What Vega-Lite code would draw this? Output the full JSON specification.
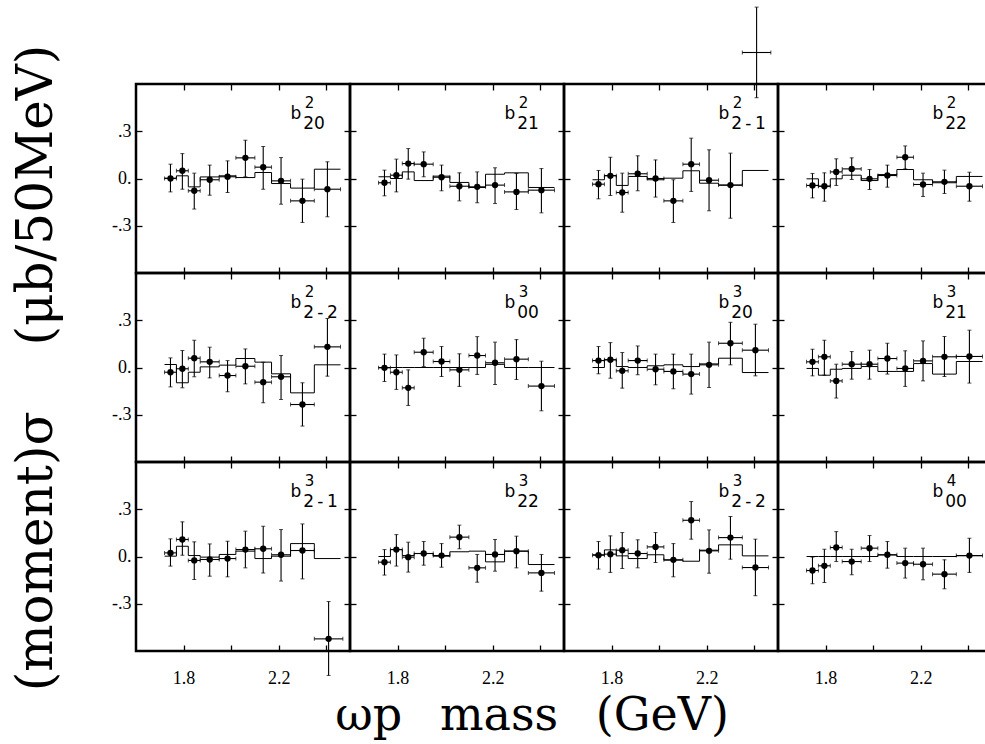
{
"$schema": "https://vega.github.io/schema/vega-lite/v6.json",
"background": "white",
"padding": {"left": 10, "top": 5, "right": 0, "bottom": 0},
"columns": 4,
"spacing": 0,
"bounds": "flush",
"title": {"text": "ωp\u2002 mass\u2002 (GeV)", "orient": "bottom", "anchor": "middle", "font": "DejaVu Serif", "fontSize": 46, "fontWeight": "normal", "color": "black", "offset": 2, "dx": 30},
"datasets": {
"pts": [
{"p":"p1","x":1.745,"xl":1.72,"xh":1.77,"y":0.0,"lo":-0.085,"hi":0.091},
{"p":"p1","x":1.795,"xl":1.77,"xh":1.82,"y":0.049,"lo":-0.068,"hi":0.158},
{"p":"p1","x":1.845,"xl":1.82,"xh":1.87,"y":-0.078,"lo":-0.194,"hi":0.034},
{"p":"p1","x":1.91,"xl":1.87,"xh":1.95,"y":-0.008,"lo":-0.106,"hi":0.085},
{"p":"p1","x":1.985,"xl":1.95,"xh":2.02,"y":0.011,"lo":-0.089,"hi":0.112},
{"p":"p1","x":2.06,"xl":2.02,"xh":2.1,"y":0.131,"lo":0.011,"hi":0.243},
{"p":"p1","x":2.135,"xl":2.1,"xh":2.17,"y":0.072,"lo":-0.068,"hi":0.203},
{"p":"p1","x":2.21,"xl":2.17,"xh":2.25,"y":-0.015,"lo":-0.163,"hi":0.133},
{"p":"p1","x":2.3,"xl":2.25,"xh":2.35,"y":-0.142,"lo":-0.279,"hi":-0.004},
{"p":"p1","x":2.405,"xl":2.35,"xh":2.46,"y":-0.068,"lo":-0.243,"hi":0.106},
{"p":"p2","x":1.745,"xl":1.72,"xh":1.77,"y":-0.027,"lo":-0.11,"hi":0.053},
{"p":"p2","x":1.795,"xl":1.77,"xh":1.82,"y":0.021,"lo":-0.085,"hi":0.123},
{"p":"p2","x":1.845,"xl":1.82,"xh":1.87,"y":0.095,"lo":-0.004,"hi":0.19},
{"p":"p2","x":1.91,"xl":1.87,"xh":1.95,"y":0.091,"lo":0.011,"hi":0.169},
{"p":"p2","x":1.985,"xl":1.95,"xh":2.02,"y":0.008,"lo":-0.078,"hi":0.085},
{"p":"p2","x":2.06,"xl":2.02,"xh":2.1,"y":-0.049,"lo":-0.142,"hi":0.036},
{"p":"p2","x":2.135,"xl":2.1,"xh":2.17,"y":-0.053,"lo":-0.154,"hi":0.042},
{"p":"p2","x":2.21,"xl":2.17,"xh":2.25,"y":-0.042,"lo":-0.159,"hi":0.068},
{"p":"p2","x":2.3,"xl":2.25,"xh":2.35,"y":-0.085,"lo":-0.197,"hi":0.032},
{"p":"p2","x":2.405,"xl":2.35,"xh":2.46,"y":-0.074,"lo":-0.218,"hi":0.063},
{"p":"p3","x":1.745,"xl":1.72,"xh":1.77,"y":-0.036,"lo":-0.129,"hi":0.051},
{"p":"p3","x":1.795,"xl":1.77,"xh":1.82,"y":0.017,"lo":-0.108,"hi":0.135},
{"p":"p3","x":1.845,"xl":1.82,"xh":1.87,"y":-0.089,"lo":-0.214,"hi":0.034},
{"p":"p3","x":1.91,"xl":1.87,"xh":1.95,"y":0.03,"lo":-0.078,"hi":0.144},
{"p":"p3","x":1.985,"xl":1.95,"xh":2.02,"y":0.0,"lo":-0.118,"hi":0.118},
{"p":"p3","x":2.06,"xl":2.02,"xh":2.1,"y":-0.142,"lo":-0.279,"hi":-0.008},
{"p":"p3","x":2.135,"xl":2.1,"xh":2.17,"y":0.091,"lo":-0.082,"hi":0.256},
{"p":"p3","x":2.21,"xl":2.17,"xh":2.25,"y":-0.011,"lo":-0.205,"hi":0.182},
{"p":"p3","x":2.3,"xl":2.25,"xh":2.35,"y":-0.042,"lo":-0.252,"hi":0.161},
{"p":"p3","x":2.41,"xl":2.35,"xh":2.47,"y":0.8,"lo":0.513,"hi":1.088},
{"p":"p4","x":1.745,"xl":1.72,"xh":1.77,"y":-0.044,"lo":-0.123,"hi":0.032},
{"p":"p4","x":1.795,"xl":1.77,"xh":1.82,"y":-0.049,"lo":-0.144,"hi":0.036},
{"p":"p4","x":1.845,"xl":1.82,"xh":1.87,"y":0.042,"lo":-0.044,"hi":0.125},
{"p":"p4","x":1.91,"xl":1.87,"xh":1.95,"y":0.061,"lo":-0.006,"hi":0.131},
{"p":"p4","x":1.985,"xl":1.95,"xh":2.02,"y":-0.002,"lo":-0.07,"hi":0.057},
{"p":"p4","x":2.06,"xl":2.02,"xh":2.1,"y":0.019,"lo":-0.055,"hi":0.085},
{"p":"p4","x":2.135,"xl":2.1,"xh":2.17,"y":0.135,"lo":0.061,"hi":0.207},
{"p":"p4","x":2.21,"xl":2.17,"xh":2.25,"y":-0.038,"lo":-0.114,"hi":0.034},
{"p":"p4","x":2.3,"xl":2.25,"xh":2.35,"y":-0.021,"lo":-0.095,"hi":0.053},
{"p":"p4","x":2.405,"xl":2.35,"xh":2.46,"y":-0.049,"lo":-0.144,"hi":0.04},
{"p":"p5","x":1.745,"xl":1.72,"xh":1.77,"y":-0.03,"lo":-0.123,"hi":0.061},
{"p":"p5","x":1.795,"xl":1.77,"xh":1.82,"y":-0.008,"lo":-0.129,"hi":0.108},
{"p":"p5","x":1.845,"xl":1.82,"xh":1.87,"y":0.059,"lo":-0.059,"hi":0.173},
{"p":"p5","x":1.91,"xl":1.87,"xh":1.95,"y":0.036,"lo":-0.066,"hi":0.129},
{"p":"p5","x":1.985,"xl":1.95,"xh":2.02,"y":-0.051,"lo":-0.154,"hi":0.044},
{"p":"p5","x":2.06,"xl":2.02,"xh":2.1,"y":0.008,"lo":-0.104,"hi":0.118},
{"p":"p5","x":2.135,"xl":2.1,"xh":2.17,"y":-0.093,"lo":-0.224,"hi":0.034},
{"p":"p5","x":2.21,"xl":2.17,"xh":2.25,"y":-0.059,"lo":-0.203,"hi":0.076},
{"p":"p5","x":2.3,"xl":2.25,"xh":2.35,"y":-0.235,"lo":-0.372,"hi":-0.097},
{"p":"p5","x":2.405,"xl":2.35,"xh":2.46,"y":0.131,"lo":-0.055,"hi":0.311},
{"p":"p6","x":1.745,"xl":1.72,"xh":1.77,"y":-0.002,"lo":-0.089,"hi":0.085},
{"p":"p6","x":1.795,"xl":1.77,"xh":1.82,"y":-0.03,"lo":-0.139,"hi":0.08},
{"p":"p6","x":1.845,"xl":1.82,"xh":1.87,"y":-0.129,"lo":-0.241,"hi":-0.015},
{"p":"p6","x":1.91,"xl":1.87,"xh":1.95,"y":0.097,"lo":0.006,"hi":0.186},
{"p":"p6","x":1.985,"xl":1.95,"xh":2.02,"y":0.038,"lo":-0.057,"hi":0.133},
{"p":"p6","x":2.06,"xl":2.02,"xh":2.1,"y":-0.015,"lo":-0.12,"hi":0.087},
{"p":"p6","x":2.135,"xl":2.1,"xh":2.17,"y":0.076,"lo":-0.044,"hi":0.196},
{"p":"p6","x":2.21,"xl":2.17,"xh":2.25,"y":0.03,"lo":-0.108,"hi":0.161},
{"p":"p6","x":2.3,"xl":2.25,"xh":2.35,"y":0.053,"lo":-0.076,"hi":0.177},
{"p":"p6","x":2.405,"xl":2.35,"xh":2.46,"y":-0.118,"lo":-0.275,"hi":0.04},
{"p":"p7","x":1.745,"xl":1.72,"xh":1.77,"y":0.044,"lo":-0.04,"hi":0.133},
{"p":"p7","x":1.795,"xl":1.77,"xh":1.82,"y":0.049,"lo":-0.068,"hi":0.158},
{"p":"p7","x":1.845,"xl":1.82,"xh":1.87,"y":-0.021,"lo":-0.131,"hi":0.095},
{"p":"p7","x":1.91,"xl":1.87,"xh":1.95,"y":0.044,"lo":-0.046,"hi":0.137},
{"p":"p7","x":1.985,"xl":1.95,"xh":2.02,"y":-0.011,"lo":-0.11,"hi":0.085},
{"p":"p7","x":2.06,"xl":2.02,"xh":2.1,"y":-0.025,"lo":-0.135,"hi":0.085},
{"p":"p7","x":2.135,"xl":2.1,"xh":2.17,"y":-0.042,"lo":-0.169,"hi":0.085},
{"p":"p7","x":2.21,"xl":2.17,"xh":2.25,"y":0.017,"lo":-0.127,"hi":0.161},
{"p":"p7","x":2.3,"xl":2.25,"xh":2.35,"y":0.154,"lo":0.017,"hi":0.287},
{"p":"p7","x":2.405,"xl":2.35,"xh":2.46,"y":0.11,"lo":-0.053,"hi":0.275},
{"p":"p8","x":1.745,"xl":1.72,"xh":1.77,"y":0.036,"lo":-0.053,"hi":0.116},
{"p":"p8","x":1.795,"xl":1.77,"xh":1.82,"y":0.068,"lo":-0.049,"hi":0.173},
{"p":"p8","x":1.845,"xl":1.82,"xh":1.87,"y":-0.085,"lo":-0.194,"hi":0.021},
{"p":"p8","x":1.91,"xl":1.87,"xh":1.95,"y":0.021,"lo":-0.074,"hi":0.101},
{"p":"p8","x":1.985,"xl":1.95,"xh":2.02,"y":0.021,"lo":-0.074,"hi":0.11},
{"p":"p8","x":2.06,"xl":2.02,"xh":2.1,"y":0.057,"lo":-0.042,"hi":0.154},
{"p":"p8","x":2.135,"xl":2.1,"xh":2.17,"y":-0.006,"lo":-0.12,"hi":0.106},
{"p":"p8","x":2.21,"xl":2.17,"xh":2.25,"y":0.042,"lo":-0.085,"hi":0.169},
{"p":"p8","x":2.3,"xl":2.25,"xh":2.35,"y":0.068,"lo":-0.057,"hi":0.197},
{"p":"p8","x":2.405,"xl":2.35,"xh":2.46,"y":0.07,"lo":-0.099,"hi":0.237},
{"p":"p9","x":1.745,"xl":1.72,"xh":1.77,"y":0.023,"lo":-0.061,"hi":0.112},
{"p":"p9","x":1.795,"xl":1.77,"xh":1.82,"y":0.108,"lo":0.008,"hi":0.22},
{"p":"p9","x":1.845,"xl":1.82,"xh":1.87,"y":-0.025,"lo":-0.146,"hi":0.093},
{"p":"p9","x":1.91,"xl":1.87,"xh":1.95,"y":-0.019,"lo":-0.125,"hi":0.08},
{"p":"p9","x":1.985,"xl":1.95,"xh":2.02,"y":-0.013,"lo":-0.129,"hi":0.097},
{"p":"p9","x":2.06,"xl":2.02,"xh":2.1,"y":0.044,"lo":-0.072,"hi":0.161},
{"p":"p9","x":2.135,"xl":2.1,"xh":2.17,"y":0.049,"lo":-0.104,"hi":0.192},
{"p":"p9","x":2.21,"xl":2.17,"xh":2.25,"y":0.011,"lo":-0.156,"hi":0.171},
{"p":"p9","x":2.3,"xl":2.25,"xh":2.35,"y":0.038,"lo":-0.142,"hi":0.207},
{"p":"p9","x":2.41,"xl":2.35,"xh":2.47,"y":-0.523,"lo":-0.755,"hi":-0.286},
{"p":"p10","x":1.745,"xl":1.72,"xh":1.77,"y":-0.036,"lo":-0.118,"hi":0.044},
{"p":"p10","x":1.795,"xl":1.77,"xh":1.82,"y":0.044,"lo":-0.061,"hi":0.139},
{"p":"p10","x":1.845,"xl":1.82,"xh":1.87,"y":-0.004,"lo":-0.099,"hi":0.091},
{"p":"p10","x":1.91,"xl":1.87,"xh":1.95,"y":0.019,"lo":-0.055,"hi":0.095},
{"p":"p10","x":1.985,"xl":1.95,"xh":2.02,"y":0.006,"lo":-0.068,"hi":0.082},
{"p":"p10","x":2.06,"xl":2.02,"xh":2.1,"y":0.123,"lo":0.049,"hi":0.199},
{"p":"p10","x":2.135,"xl":2.1,"xh":2.17,"y":-0.072,"lo":-0.163,"hi":0.013},
{"p":"p10","x":2.21,"xl":2.17,"xh":2.25,"y":0.013,"lo":-0.093,"hi":0.108},
{"p":"p10","x":2.3,"xl":2.25,"xh":2.35,"y":0.034,"lo":-0.072,"hi":0.129},
{"p":"p10","x":2.405,"xl":2.35,"xh":2.46,"y":-0.104,"lo":-0.22,"hi":0.013},
{"p":"p11","x":1.745,"xl":1.72,"xh":1.77,"y":0.008,"lo":-0.08,"hi":0.095},
{"p":"p11","x":1.795,"xl":1.77,"xh":1.82,"y":0.015,"lo":-0.101,"hi":0.131},
{"p":"p11","x":1.845,"xl":1.82,"xh":1.87,"y":0.04,"lo":-0.076,"hi":0.152},
{"p":"p11","x":1.91,"xl":1.87,"xh":1.95,"y":0.019,"lo":-0.072,"hi":0.106},
{"p":"p11","x":1.985,"xl":1.95,"xh":2.02,"y":0.061,"lo":-0.038,"hi":0.152},
{"p":"p11","x":2.06,"xl":2.02,"xh":2.1,"y":-0.021,"lo":-0.129,"hi":0.082},
{"p":"p11","x":2.135,"xl":2.1,"xh":2.17,"y":0.23,"lo":0.11,"hi":0.349},
{"p":"p11","x":2.21,"xl":2.17,"xh":2.25,"y":0.036,"lo":-0.106,"hi":0.169},
{"p":"p11","x":2.3,"xl":2.25,"xh":2.35,"y":0.12,"lo":-0.017,"hi":0.254},
{"p":"p11","x":2.405,"xl":2.35,"xh":2.46,"y":-0.07,"lo":-0.249,"hi":0.11},
{"p":"p12","x":1.745,"xl":1.72,"xh":1.77,"y":-0.089,"lo":-0.173,"hi":-0.004},
{"p":"p12","x":1.795,"xl":1.77,"xh":1.82,"y":-0.059,"lo":-0.165,"hi":0.046},
{"p":"p12","x":1.845,"xl":1.82,"xh":1.87,"y":0.057,"lo":-0.032,"hi":0.158},
{"p":"p12","x":1.91,"xl":1.87,"xh":1.95,"y":-0.032,"lo":-0.116,"hi":0.046},
{"p":"p12","x":1.985,"xl":1.95,"xh":2.02,"y":0.053,"lo":-0.032,"hi":0.133},
{"p":"p12","x":2.06,"xl":2.02,"xh":2.1,"y":0.011,"lo":-0.074,"hi":0.095},
{"p":"p12","x":2.135,"xl":2.1,"xh":2.17,"y":-0.042,"lo":-0.137,"hi":0.053},
{"p":"p12","x":2.21,"xl":2.17,"xh":2.25,"y":-0.049,"lo":-0.148,"hi":0.053},
{"p":"p12","x":2.3,"xl":2.25,"xh":2.35,"y":-0.112,"lo":-0.205,"hi":-0.021},
{"p":"p12","x":2.405,"xl":2.35,"xh":2.46,"y":0.006,"lo":-0.101,"hi":0.116}
],
"hist": [
{"p":"p1","x":1.72,"h":0.002},{"p":"p1","x":1.77,"h":0.017},{"p":"p1","x":1.82,"h":-0.053},{"p":"p1","x":1.87,"h":0.01},{"p":"p1","x":1.95,"h":0.017},{"p":"p1","x":2.02,"h":0.006},{"p":"p1","x":2.1,"h":0.038},{"p":"p1","x":2.17,"h":-0.032},{"p":"p1","x":2.25,"h":-0.061},{"p":"p1","x":2.35,"h":0.059},{"p":"p1","x":2.46,"h":0.059},
{"p":"p2","x":1.72,"h":0.011},{"p":"p2","x":1.77,"h":0.0},{"p":"p2","x":1.82,"h":0.042},{"p":"p2","x":1.87,"h":-0.013},{"p":"p2","x":1.95,"h":0.015},{"p":"p2","x":2.02,"h":-0.025},{"p":"p2","x":2.1,"h":-0.057},{"p":"p2","x":2.17,"h":0.027},{"p":"p2","x":2.25,"h":0.036},{"p":"p2","x":2.35,"h":-0.057},{"p":"p2","x":2.46,"h":-0.057},
{"p":"p3","x":1.72,"h":-0.008},{"p":"p3","x":1.77,"h":0.019},{"p":"p3","x":1.82,"h":-0.044},{"p":"p3","x":1.87,"h":0.013},{"p":"p3","x":1.95,"h":-0.008},{"p":"p3","x":2.02,"h":0.002},{"p":"p3","x":2.1,"h":0.049},{"p":"p3","x":2.17,"h":-0.03},{"p":"p3","x":2.25,"h":-0.042},{"p":"p3","x":2.35,"h":0.051},{"p":"p3","x":2.46,"h":0.051},
{"p":"p4","x":1.72,"h":-0.002},{"p":"p4","x":1.77,"h":-0.049},{"p":"p4","x":1.82,"h":-0.002},{"p":"p4","x":1.87,"h":0.021},{"p":"p4","x":1.95,"h":-0.013},{"p":"p4","x":2.02,"h":0.025},{"p":"p4","x":2.1,"h":0.057},{"p":"p4","x":2.17,"h":-0.008},{"p":"p4","x":2.25,"h":-0.027},{"p":"p4","x":2.35,"h":0.013},{"p":"p4","x":2.46,"h":0.013},
{"p":"p5","x":1.72,"h":0.019},{"p":"p5","x":1.77,"h":-0.097},{"p":"p5","x":1.82,"h":-0.03},{"p":"p5","x":1.87,"h":0.004},{"p":"p5","x":1.95,"h":0.015},{"p":"p5","x":2.02,"h":0.057},{"p":"p5","x":2.1,"h":0.034},{"p":"p5","x":2.17,"h":-0.04},{"p":"p5","x":2.25,"h":-0.161},{"p":"p5","x":2.35,"h":0.017},{"p":"p5","x":2.46,"h":0.017},
{"p":"p6","x":1.72,"h":0},{"p":"p6","x":1.77,"h":0},{"p":"p6","x":1.82,"h":0},{"p":"p6","x":1.87,"h":0},{"p":"p6","x":1.95,"h":0},{"p":"p6","x":2.02,"h":0},{"p":"p6","x":2.1,"h":0},{"p":"p6","x":2.17,"h":0.02},{"p":"p6","x":2.25,"h":0},{"p":"p6","x":2.35,"h":0},{"p":"p6","x":2.46,"h":0},
{"p":"p7","x":1.72,"h":0.0},{"p":"p7","x":1.77,"h":0.049},{"p":"p7","x":1.82,"h":0.006},{"p":"p7","x":1.87,"h":0.0},{"p":"p7","x":1.95,"h":0.011},{"p":"p7","x":2.02,"h":0.017},{"p":"p7","x":2.1,"h":0.006},{"p":"p7","x":2.17,"h":0.023},{"p":"p7","x":2.25,"h":0.059},{"p":"p7","x":2.35,"h":-0.032},{"p":"p7","x":2.46,"h":-0.032},
{"p":"p8","x":1.72,"h":-0.006},{"p":"p8","x":1.77,"h":-0.049},{"p":"p8","x":1.82,"h":-0.011},{"p":"p8","x":1.87,"h":-0.006},{"p":"p8","x":1.95,"h":0.006},{"p":"p8","x":2.02,"h":-0.025},{"p":"p8","x":2.1,"h":-0.025},{"p":"p8","x":2.17,"h":0.025},{"p":"p8","x":2.25,"h":-0.042},{"p":"p8","x":2.35,"h":0.038},{"p":"p8","x":2.46,"h":0.038},
{"p":"p9","x":1.72,"h":0.002},{"p":"p9","x":1.77,"h":0.065},{"p":"p9","x":1.82,"h":0.006},{"p":"p9","x":1.87,"h":-0.004},{"p":"p9","x":1.95,"h":0.013},{"p":"p9","x":2.02,"h":0.034},{"p":"p9","x":2.1,"h":-0.013},{"p":"p9","x":2.17,"h":0.002},{"p":"p9","x":2.25,"h":0.082},{"p":"p9","x":2.35,"h":-0.013},{"p":"p9","x":2.46,"h":-0.013},
{"p":"p10","x":1.72,"h":0.0},{"p":"p10","x":1.77,"h":0.044},{"p":"p10","x":1.82,"h":0.006},{"p":"p10","x":1.87,"h":0.019},{"p":"p10","x":1.95,"h":0.002},{"p":"p10","x":2.02,"h":0.03},{"p":"p10","x":2.1,"h":0.034},{"p":"p10","x":2.17,"h":-0.034},{"p":"p10","x":2.25,"h":0.034},{"p":"p10","x":2.35,"h":-0.051},{"p":"p10","x":2.46,"h":-0.051},
{"p":"p11","x":1.72,"h":0.011},{"p":"p11","x":1.77,"h":0.042},{"p":"p11","x":1.82,"h":0.004},{"p":"p11","x":1.87,"h":-0.013},{"p":"p11","x":1.95,"h":0.011},{"p":"p11","x":2.02,"h":-0.023},{"p":"p11","x":2.1,"h":-0.03},{"p":"p11","x":2.17,"h":0.04},{"p":"p11","x":2.25,"h":0.074},{"p":"p11","x":2.35,"h":0.004},{"p":"p11","x":2.46,"h":0.004},
{"p":"p12","x":1.72,"h":0},{"p":"p12","x":1.77,"h":0},{"p":"p12","x":1.82,"h":0},{"p":"p12","x":1.87,"h":0},{"p":"p12","x":1.95,"h":0},{"p":"p12","x":2.02,"h":0.01},{"p":"p12","x":2.1,"h":0},{"p":"p12","x":2.17,"h":0},{"p":"p12","x":2.25,"h":0},{"p":"p12","x":2.35,"h":0.005},{"p":"p12","x":2.46,"h":0.005}
],
"lab": [
{"p":"p1","sup":"2","sub":"20"},
{"p":"p2","sup":"2","sub":"21"},
{"p":"p3","sup":"2","sub":"2\u2009-\u20091"},
{"p":"p4","sup":"2","sub":"22"},
{"p":"p5","sup":"2","sub":"2\u2009-\u20092"},
{"p":"p6","sup":"3","sub":"00"},
{"p":"p7","sup":"3","sub":"20"},
{"p":"p8","sup":"3","sub":"21"},
{"p":"p9","sup":"3","sub":"2\u2009-\u20091"},
{"p":"p10","sup":"3","sub":"22"},
{"p":"p11","sup":"3","sub":"2\u2009-\u20092"},
{"p":"p12","sup":"4","sub":"00"}
]
},
"concat": [
{"width":214,"height":189,"layer":[
{"data":{"name":"hist"},"transform":[{"filter":"datum.p=='p1'"}],"mark":{"type":"line","interpolate":"step-after","color":"black","strokeWidth":1},"encoding":{"x":{"field":"x","type":"quantitative","scale":{"domain":[1.6,2.5]},"axis":{"orient":"bottom","values":[1.8,2.0,2.2,2.4],"title":null,"labels":false}},"y":{"field":"h","type":"quantitative","scale":{"domain":[-0.6,0.6]},"axis":{"orient":"left","values":[-0.3,0,0.3],"title":null,"labelExpr":"datum.value>0.1?'.3':(datum.value<-0.1?'-.3':'0.')"}}}},
{"data":{"name":"pts"},"transform":[{"filter":"datum.p=='p1'"}],"mark":{"type":"errorbar","color":"black","ticks":{"size":4},"rule":{"strokeWidth":1.1}},"encoding":{"x":{"field":"x","type":"quantitative","scale":{"domain":[1.6,2.5]},"axis":{"orient":"top","values":[1.8,2.0,2.2,2.4],"labels":false,"title":null}},"y":{"field":"lo","type":"quantitative","scale":{"domain":[-0.6,0.6]},"axis":{"orient":"right","values":[-0.3,0,0.3],"labels":false,"title":null}},"y2":{"field":"hi"}}},
{"data":{"name":"pts"},"transform":[{"filter":"datum.p=='p1'"}],"mark":{"type":"errorbar","color":"black","ticks":{"size":4},"rule":{"strokeWidth":1.1}},"encoding":{"y":{"field":"y","type":"quantitative","axis":null},"x":{"field":"xl","type":"quantitative","axis":null},"x2":{"field":"xh"}}},
{"data":{"name":"pts"},"transform":[{"filter":"datum.p=='p1' && datum.y<0.6"}],"mark":{"type":"point","filled":true,"color":"black","size":40,"opacity":1},"encoding":{"x":{"field":"x","type":"quantitative","axis":null},"y":{"field":"y","type":"quantitative","axis":null}}},
{"data":{"name":"lab"},"transform":[{"filter":"datum.p=='p1'"}],"mark":{"type":"text","text":"b","align":"left","baseline":"alphabetic","font":"DejaVu Sans","fontSize":17,"color":"black"},"encoding":{"x":{"datum":2.25,"type":"quantitative","axis":null},"y":{"datum":0.375,"type":"quantitative","axis":null}}},
{"data":{"name":"lab"},"transform":[{"filter":"datum.p=='p1'"}],"mark":{"type":"text","align":"left","baseline":"alphabetic","font":"DejaVu Sans","fontSize":15,"color":"black"},"encoding":{"x":{"datum":2.31,"type":"quantitative","axis":null},"y":{"datum":0.445,"type":"quantitative","axis":null},"text":{"field":"sup"}}},
{"data":{"name":"lab"},"transform":[{"filter":"datum.p=='p1'"}],"mark":{"type":"text","align":"left","baseline":"alphabetic","font":"DejaVu Sans","fontSize":17,"color":"black"},"encoding":{"x":{"datum":2.303,"type":"quantitative","axis":null},"y":{"datum":0.315,"type":"quantitative","axis":null},"text":{"field":"sub"}}}
]},
{"width":214,"height":189,"layer":[
{"data":{"name":"hist"},"transform":[{"filter":"datum.p=='p2'"}],"mark":{"type":"line","interpolate":"step-after","color":"black","strokeWidth":1},"encoding":{"x":{"field":"x","type":"quantitative","scale":{"domain":[1.6,2.5]},"axis":{"orient":"bottom","values":[1.8,2.0,2.2,2.4],"title":null,"labels":false}},"y":{"field":"h","type":"quantitative","scale":{"domain":[-0.6,0.6]},"axis":{"orient":"left","values":[-0.3,0,0.3],"title":null,"labels":false}}}},
{"data":{"name":"pts"},"transform":[{"filter":"datum.p=='p2'"}],"mark":{"type":"errorbar","color":"black","ticks":{"size":4},"rule":{"strokeWidth":1.1}},"encoding":{"x":{"field":"x","type":"quantitative","scale":{"domain":[1.6,2.5]},"axis":{"orient":"top","values":[1.8,2.0,2.2,2.4],"labels":false,"title":null}},"y":{"field":"lo","type":"quantitative","scale":{"domain":[-0.6,0.6]},"axis":{"orient":"right","values":[-0.3,0,0.3],"labels":false,"title":null}},"y2":{"field":"hi"}}},
{"data":{"name":"pts"},"transform":[{"filter":"datum.p=='p2'"}],"mark":{"type":"errorbar","color":"black","ticks":{"size":4},"rule":{"strokeWidth":1.1}},"encoding":{"y":{"field":"y","type":"quantitative","axis":null},"x":{"field":"xl","type":"quantitative","axis":null},"x2":{"field":"xh"}}},
{"data":{"name":"pts"},"transform":[{"filter":"datum.p=='p2' && datum.y<0.6"}],"mark":{"type":"point","filled":true,"color":"black","size":40,"opacity":1},"encoding":{"x":{"field":"x","type":"quantitative","axis":null},"y":{"field":"y","type":"quantitative","axis":null}}},
{"data":{"name":"lab"},"transform":[{"filter":"datum.p=='p2'"}],"mark":{"type":"text","text":"b","align":"left","baseline":"alphabetic","font":"DejaVu Sans","fontSize":17,"color":"black"},"encoding":{"x":{"datum":2.25,"type":"quantitative","axis":null},"y":{"datum":0.375,"type":"quantitative","axis":null}}},
{"data":{"name":"lab"},"transform":[{"filter":"datum.p=='p2'"}],"mark":{"type":"text","align":"left","baseline":"alphabetic","font":"DejaVu Sans","fontSize":15,"color":"black"},"encoding":{"x":{"datum":2.31,"type":"quantitative","axis":null},"y":{"datum":0.445,"type":"quantitative","axis":null},"text":{"field":"sup"}}},
{"data":{"name":"lab"},"transform":[{"filter":"datum.p=='p2'"}],"mark":{"type":"text","align":"left","baseline":"alphabetic","font":"DejaVu Sans","fontSize":17,"color":"black"},"encoding":{"x":{"datum":2.303,"type":"quantitative","axis":null},"y":{"datum":0.315,"type":"quantitative","axis":null},"text":{"field":"sub"}}}
]},
{"width":214,"height":189,"layer":[
{"data":{"name":"hist"},"transform":[{"filter":"datum.p=='p3'"}],"mark":{"type":"line","interpolate":"step-after","color":"black","strokeWidth":1},"encoding":{"x":{"field":"x","type":"quantitative","scale":{"domain":[1.6,2.5]},"axis":{"orient":"bottom","values":[1.8,2.0,2.2,2.4],"title":null,"labels":false}},"y":{"field":"h","type":"quantitative","scale":{"domain":[-0.6,0.6]},"axis":{"orient":"left","values":[-0.3,0,0.3],"title":null,"labels":false}}}},
{"data":{"name":"pts"},"transform":[{"filter":"datum.p=='p3'"}],"mark":{"type":"errorbar","color":"black","ticks":{"size":4},"rule":{"strokeWidth":1.1}},"encoding":{"x":{"field":"x","type":"quantitative","scale":{"domain":[1.6,2.5]},"axis":{"orient":"top","values":[1.8,2.0,2.2,2.4],"labels":false,"title":null}},"y":{"field":"lo","type":"quantitative","scale":{"domain":[-0.6,0.6]},"axis":{"orient":"right","values":[-0.3,0,0.3],"labels":false,"title":null}},"y2":{"field":"hi"}}},
{"data":{"name":"pts"},"transform":[{"filter":"datum.p=='p3'"}],"mark":{"type":"errorbar","color":"black","ticks":{"size":4},"rule":{"strokeWidth":1.1}},"encoding":{"y":{"field":"y","type":"quantitative","axis":null},"x":{"field":"xl","type":"quantitative","axis":null},"x2":{"field":"xh"}}},
{"data":{"name":"pts"},"transform":[{"filter":"datum.p=='p3' && datum.y<0.6"}],"mark":{"type":"point","filled":true,"color":"black","size":40,"opacity":1},"encoding":{"x":{"field":"x","type":"quantitative","axis":null},"y":{"field":"y","type":"quantitative","axis":null}}},
{"data":{"name":"lab"},"transform":[{"filter":"datum.p=='p3'"}],"mark":{"type":"text","text":"b","align":"left","baseline":"alphabetic","font":"DejaVu Sans","fontSize":17,"color":"black"},"encoding":{"x":{"datum":2.25,"type":"quantitative","axis":null},"y":{"datum":0.375,"type":"quantitative","axis":null}}},
{"data":{"name":"lab"},"transform":[{"filter":"datum.p=='p3'"}],"mark":{"type":"text","align":"left","baseline":"alphabetic","font":"DejaVu Sans","fontSize":15,"color":"black"},"encoding":{"x":{"datum":2.31,"type":"quantitative","axis":null},"y":{"datum":0.445,"type":"quantitative","axis":null},"text":{"field":"sup"}}},
{"data":{"name":"lab"},"transform":[{"filter":"datum.p=='p3'"}],"mark":{"type":"text","align":"left","baseline":"alphabetic","font":"DejaVu Sans","fontSize":17,"color":"black"},"encoding":{"x":{"datum":2.303,"type":"quantitative","axis":null},"y":{"datum":0.315,"type":"quantitative","axis":null},"text":{"field":"sub"}}}
]},
{"width":214,"height":189,"layer":[
{"data":{"name":"hist"},"transform":[{"filter":"datum.p=='p4'"}],"mark":{"type":"line","interpolate":"step-after","color":"black","strokeWidth":1},"encoding":{"x":{"field":"x","type":"quantitative","scale":{"domain":[1.6,2.5]},"axis":{"orient":"bottom","values":[1.8,2.0,2.2,2.4],"title":null,"labels":false}},"y":{"field":"h","type":"quantitative","scale":{"domain":[-0.6,0.6]},"axis":{"orient":"left","values":[-0.3,0,0.3],"title":null,"labels":false}}}},
{"data":{"name":"pts"},"transform":[{"filter":"datum.p=='p4'"}],"mark":{"type":"errorbar","color":"black","ticks":{"size":4},"rule":{"strokeWidth":1.1}},"encoding":{"x":{"field":"x","type":"quantitative","scale":{"domain":[1.6,2.5]},"axis":{"orient":"top","values":[1.8,2.0,2.2,2.4],"labels":false,"title":null}},"y":{"field":"lo","type":"quantitative","scale":{"domain":[-0.6,0.6]},"axis":{"orient":"right","values":[-0.3,0,0.3],"labels":false,"title":null}},"y2":{"field":"hi"}}},
{"data":{"name":"pts"},"transform":[{"filter":"datum.p=='p4'"}],"mark":{"type":"errorbar","color":"black","ticks":{"size":4},"rule":{"strokeWidth":1.1}},"encoding":{"y":{"field":"y","type":"quantitative","axis":null},"x":{"field":"xl","type":"quantitative","axis":null},"x2":{"field":"xh"}}},
{"data":{"name":"pts"},"transform":[{"filter":"datum.p=='p4' && datum.y<0.6"}],"mark":{"type":"point","filled":true,"color":"black","size":40,"opacity":1},"encoding":{"x":{"field":"x","type":"quantitative","axis":null},"y":{"field":"y","type":"quantitative","axis":null}}},
{"data":{"name":"lab"},"transform":[{"filter":"datum.p=='p4'"}],"mark":{"type":"text","text":"b","align":"left","baseline":"alphabetic","font":"DejaVu Sans","fontSize":17,"color":"black"},"encoding":{"x":{"datum":2.25,"type":"quantitative","axis":null},"y":{"datum":0.375,"type":"quantitative","axis":null}}},
{"data":{"name":"lab"},"transform":[{"filter":"datum.p=='p4'"}],"mark":{"type":"text","align":"left","baseline":"alphabetic","font":"DejaVu Sans","fontSize":15,"color":"black"},"encoding":{"x":{"datum":2.31,"type":"quantitative","axis":null},"y":{"datum":0.445,"type":"quantitative","axis":null},"text":{"field":"sup"}}},
{"data":{"name":"lab"},"transform":[{"filter":"datum.p=='p4'"}],"mark":{"type":"text","align":"left","baseline":"alphabetic","font":"DejaVu Sans","fontSize":17,"color":"black"},"encoding":{"x":{"datum":2.303,"type":"quantitative","axis":null},"y":{"datum":0.315,"type":"quantitative","axis":null},"text":{"field":"sub"}}}
]},
{"width":214,"height":189,"layer":[
{"data":{"name":"hist"},"transform":[{"filter":"datum.p=='p5'"}],"mark":{"type":"line","interpolate":"step-after","color":"black","strokeWidth":1},"encoding":{"x":{"field":"x","type":"quantitative","scale":{"domain":[1.6,2.5]},"axis":{"orient":"bottom","values":[1.8,2.0,2.2,2.4],"title":null,"labels":false}},"y":{"field":"h","type":"quantitative","scale":{"domain":[-0.6,0.6]},"axis":{"orient":"left","values":[-0.3,0,0.3],"title":"(moment)σ\u2003 (μb/50MeV)","titlePadding":50,"labelExpr":"datum.value>0.1?'.3':(datum.value<-0.1?'-.3':'0.')"}}}},
{"data":{"name":"pts"},"transform":[{"filter":"datum.p=='p5'"}],"mark":{"type":"errorbar","color":"black","ticks":{"size":4},"rule":{"strokeWidth":1.1}},"encoding":{"x":{"field":"x","type":"quantitative","scale":{"domain":[1.6,2.5]},"axis":{"orient":"top","values":[1.8,2.0,2.2,2.4],"labels":false,"title":null}},"y":{"field":"lo","type":"quantitative","scale":{"domain":[-0.6,0.6]},"axis":{"orient":"right","values":[-0.3,0,0.3],"labels":false,"title":null}},"y2":{"field":"hi"}}},
{"data":{"name":"pts"},"transform":[{"filter":"datum.p=='p5'"}],"mark":{"type":"errorbar","color":"black","ticks":{"size":4},"rule":{"strokeWidth":1.1}},"encoding":{"y":{"field":"y","type":"quantitative","axis":null},"x":{"field":"xl","type":"quantitative","axis":null},"x2":{"field":"xh"}}},
{"data":{"name":"pts"},"transform":[{"filter":"datum.p=='p5' && datum.y<0.6"}],"mark":{"type":"point","filled":true,"color":"black","size":40,"opacity":1},"encoding":{"x":{"field":"x","type":"quantitative","axis":null},"y":{"field":"y","type":"quantitative","axis":null}}},
{"data":{"name":"lab"},"transform":[{"filter":"datum.p=='p5'"}],"mark":{"type":"text","text":"b","align":"left","baseline":"alphabetic","font":"DejaVu Sans","fontSize":17,"color":"black"},"encoding":{"x":{"datum":2.25,"type":"quantitative","axis":null},"y":{"datum":0.375,"type":"quantitative","axis":null}}},
{"data":{"name":"lab"},"transform":[{"filter":"datum.p=='p5'"}],"mark":{"type":"text","align":"left","baseline":"alphabetic","font":"DejaVu Sans","fontSize":15,"color":"black"},"encoding":{"x":{"datum":2.31,"type":"quantitative","axis":null},"y":{"datum":0.445,"type":"quantitative","axis":null},"text":{"field":"sup"}}},
{"data":{"name":"lab"},"transform":[{"filter":"datum.p=='p5'"}],"mark":{"type":"text","align":"left","baseline":"alphabetic","font":"DejaVu Sans","fontSize":17,"color":"black"},"encoding":{"x":{"datum":2.303,"type":"quantitative","axis":null},"y":{"datum":0.315,"type":"quantitative","axis":null},"text":{"field":"sub"}}}
]},
{"width":214,"height":189,"layer":[
{"data":{"name":"hist"},"transform":[{"filter":"datum.p=='p6'"}],"mark":{"type":"line","interpolate":"step-after","color":"black","strokeWidth":1},"encoding":{"x":{"field":"x","type":"quantitative","scale":{"domain":[1.6,2.5]},"axis":{"orient":"bottom","values":[1.8,2.0,2.2,2.4],"title":null,"labels":false}},"y":{"field":"h","type":"quantitative","scale":{"domain":[-0.6,0.6]},"axis":{"orient":"left","values":[-0.3,0,0.3],"title":null,"labels":false}}}},
{"data":{"name":"pts"},"transform":[{"filter":"datum.p=='p6'"}],"mark":{"type":"errorbar","color":"black","ticks":{"size":4},"rule":{"strokeWidth":1.1}},"encoding":{"x":{"field":"x","type":"quantitative","scale":{"domain":[1.6,2.5]},"axis":{"orient":"top","values":[1.8,2.0,2.2,2.4],"labels":false,"title":null}},"y":{"field":"lo","type":"quantitative","scale":{"domain":[-0.6,0.6]},"axis":{"orient":"right","values":[-0.3,0,0.3],"labels":false,"title":null}},"y2":{"field":"hi"}}},
{"data":{"name":"pts"},"transform":[{"filter":"datum.p=='p6'"}],"mark":{"type":"errorbar","color":"black","ticks":{"size":4},"rule":{"strokeWidth":1.1}},"encoding":{"y":{"field":"y","type":"quantitative","axis":null},"x":{"field":"xl","type":"quantitative","axis":null},"x2":{"field":"xh"}}},
{"data":{"name":"pts"},"transform":[{"filter":"datum.p=='p6' && datum.y<0.6"}],"mark":{"type":"point","filled":true,"color":"black","size":40,"opacity":1},"encoding":{"x":{"field":"x","type":"quantitative","axis":null},"y":{"field":"y","type":"quantitative","axis":null}}},
{"data":{"name":"lab"},"transform":[{"filter":"datum.p=='p6'"}],"mark":{"type":"text","text":"b","align":"left","baseline":"alphabetic","font":"DejaVu Sans","fontSize":17,"color":"black"},"encoding":{"x":{"datum":2.25,"type":"quantitative","axis":null},"y":{"datum":0.375,"type":"quantitative","axis":null}}},
{"data":{"name":"lab"},"transform":[{"filter":"datum.p=='p6'"}],"mark":{"type":"text","align":"left","baseline":"alphabetic","font":"DejaVu Sans","fontSize":15,"color":"black"},"encoding":{"x":{"datum":2.31,"type":"quantitative","axis":null},"y":{"datum":0.445,"type":"quantitative","axis":null},"text":{"field":"sup"}}},
{"data":{"name":"lab"},"transform":[{"filter":"datum.p=='p6'"}],"mark":{"type":"text","align":"left","baseline":"alphabetic","font":"DejaVu Sans","fontSize":17,"color":"black"},"encoding":{"x":{"datum":2.303,"type":"quantitative","axis":null},"y":{"datum":0.315,"type":"quantitative","axis":null},"text":{"field":"sub"}}}
]},
{"width":214,"height":189,"layer":[
{"data":{"name":"hist"},"transform":[{"filter":"datum.p=='p7'"}],"mark":{"type":"line","interpolate":"step-after","color":"black","strokeWidth":1},"encoding":{"x":{"field":"x","type":"quantitative","scale":{"domain":[1.6,2.5]},"axis":{"orient":"bottom","values":[1.8,2.0,2.2,2.4],"title":null,"labels":false}},"y":{"field":"h","type":"quantitative","scale":{"domain":[-0.6,0.6]},"axis":{"orient":"left","values":[-0.3,0,0.3],"title":null,"labels":false}}}},
{"data":{"name":"pts"},"transform":[{"filter":"datum.p=='p7'"}],"mark":{"type":"errorbar","color":"black","ticks":{"size":4},"rule":{"strokeWidth":1.1}},"encoding":{"x":{"field":"x","type":"quantitative","scale":{"domain":[1.6,2.5]},"axis":{"orient":"top","values":[1.8,2.0,2.2,2.4],"labels":false,"title":null}},"y":{"field":"lo","type":"quantitative","scale":{"domain":[-0.6,0.6]},"axis":{"orient":"right","values":[-0.3,0,0.3],"labels":false,"title":null}},"y2":{"field":"hi"}}},
{"data":{"name":"pts"},"transform":[{"filter":"datum.p=='p7'"}],"mark":{"type":"errorbar","color":"black","ticks":{"size":4},"rule":{"strokeWidth":1.1}},"encoding":{"y":{"field":"y","type":"quantitative","axis":null},"x":{"field":"xl","type":"quantitative","axis":null},"x2":{"field":"xh"}}},
{"data":{"name":"pts"},"transform":[{"filter":"datum.p=='p7' && datum.y<0.6"}],"mark":{"type":"point","filled":true,"color":"black","size":40,"opacity":1},"encoding":{"x":{"field":"x","type":"quantitative","axis":null},"y":{"field":"y","type":"quantitative","axis":null}}},
{"data":{"name":"lab"},"transform":[{"filter":"datum.p=='p7'"}],"mark":{"type":"text","text":"b","align":"left","baseline":"alphabetic","font":"DejaVu Sans","fontSize":17,"color":"black"},"encoding":{"x":{"datum":2.25,"type":"quantitative","axis":null},"y":{"datum":0.375,"type":"quantitative","axis":null}}},
{"data":{"name":"lab"},"transform":[{"filter":"datum.p=='p7'"}],"mark":{"type":"text","align":"left","baseline":"alphabetic","font":"DejaVu Sans","fontSize":15,"color":"black"},"encoding":{"x":{"datum":2.31,"type":"quantitative","axis":null},"y":{"datum":0.445,"type":"quantitative","axis":null},"text":{"field":"sup"}}},
{"data":{"name":"lab"},"transform":[{"filter":"datum.p=='p7'"}],"mark":{"type":"text","align":"left","baseline":"alphabetic","font":"DejaVu Sans","fontSize":17,"color":"black"},"encoding":{"x":{"datum":2.303,"type":"quantitative","axis":null},"y":{"datum":0.315,"type":"quantitative","axis":null},"text":{"field":"sub"}}}
]},
{"width":214,"height":189,"layer":[
{"data":{"name":"hist"},"transform":[{"filter":"datum.p=='p8'"}],"mark":{"type":"line","interpolate":"step-after","color":"black","strokeWidth":1},"encoding":{"x":{"field":"x","type":"quantitative","scale":{"domain":[1.6,2.5]},"axis":{"orient":"bottom","values":[1.8,2.0,2.2,2.4],"title":null,"labels":false}},"y":{"field":"h","type":"quantitative","scale":{"domain":[-0.6,0.6]},"axis":{"orient":"left","values":[-0.3,0,0.3],"title":null,"labels":false}}}},
{"data":{"name":"pts"},"transform":[{"filter":"datum.p=='p8'"}],"mark":{"type":"errorbar","color":"black","ticks":{"size":4},"rule":{"strokeWidth":1.1}},"encoding":{"x":{"field":"x","type":"quantitative","scale":{"domain":[1.6,2.5]},"axis":{"orient":"top","values":[1.8,2.0,2.2,2.4],"labels":false,"title":null}},"y":{"field":"lo","type":"quantitative","scale":{"domain":[-0.6,0.6]},"axis":{"orient":"right","values":[-0.3,0,0.3],"labels":false,"title":null}},"y2":{"field":"hi"}}},
{"data":{"name":"pts"},"transform":[{"filter":"datum.p=='p8'"}],"mark":{"type":"errorbar","color":"black","ticks":{"size":4},"rule":{"strokeWidth":1.1}},"encoding":{"y":{"field":"y","type":"quantitative","axis":null},"x":{"field":"xl","type":"quantitative","axis":null},"x2":{"field":"xh"}}},
{"data":{"name":"pts"},"transform":[{"filter":"datum.p=='p8' && datum.y<0.6"}],"mark":{"type":"point","filled":true,"color":"black","size":40,"opacity":1},"encoding":{"x":{"field":"x","type":"quantitative","axis":null},"y":{"field":"y","type":"quantitative","axis":null}}},
{"data":{"name":"lab"},"transform":[{"filter":"datum.p=='p8'"}],"mark":{"type":"text","text":"b","align":"left","baseline":"alphabetic","font":"DejaVu Sans","fontSize":17,"color":"black"},"encoding":{"x":{"datum":2.25,"type":"quantitative","axis":null},"y":{"datum":0.375,"type":"quantitative","axis":null}}},
{"data":{"name":"lab"},"transform":[{"filter":"datum.p=='p8'"}],"mark":{"type":"text","align":"left","baseline":"alphabetic","font":"DejaVu Sans","fontSize":15,"color":"black"},"encoding":{"x":{"datum":2.31,"type":"quantitative","axis":null},"y":{"datum":0.445,"type":"quantitative","axis":null},"text":{"field":"sup"}}},
{"data":{"name":"lab"},"transform":[{"filter":"datum.p=='p8'"}],"mark":{"type":"text","align":"left","baseline":"alphabetic","font":"DejaVu Sans","fontSize":17,"color":"black"},"encoding":{"x":{"datum":2.303,"type":"quantitative","axis":null},"y":{"datum":0.315,"type":"quantitative","axis":null},"text":{"field":"sub"}}}
]},
{"width":214,"height":189,"layer":[
{"data":{"name":"hist"},"transform":[{"filter":"datum.p=='p9'"}],"mark":{"type":"line","interpolate":"step-after","color":"black","strokeWidth":1},"encoding":{"x":{"field":"x","type":"quantitative","scale":{"domain":[1.6,2.5]},"axis":{"orient":"bottom","values":[1.8,2.0,2.2,2.4],"title":null,"labelExpr":"abs(datum.value-1.8)<0.01?'1.8':(abs(datum.value-2.2)<0.01?'2.2':'')"}},"y":{"field":"h","type":"quantitative","scale":{"domain":[-0.6,0.6]},"axis":{"orient":"left","values":[-0.3,0,0.3],"title":null,"labelExpr":"datum.value>0.1?'.3':(datum.value<-0.1?'-.3':'0.')"}}}},
{"data":{"name":"pts"},"transform":[{"filter":"datum.p=='p9'"}],"mark":{"type":"errorbar","color":"black","ticks":{"size":4},"rule":{"strokeWidth":1.1}},"encoding":{"x":{"field":"x","type":"quantitative","scale":{"domain":[1.6,2.5]},"axis":{"orient":"top","values":[1.8,2.0,2.2,2.4],"labels":false,"title":null}},"y":{"field":"lo","type":"quantitative","scale":{"domain":[-0.6,0.6]},"axis":{"orient":"right","values":[-0.3,0,0.3],"labels":false,"title":null}},"y2":{"field":"hi"}}},
{"data":{"name":"pts"},"transform":[{"filter":"datum.p=='p9'"}],"mark":{"type":"errorbar","color":"black","ticks":{"size":4},"rule":{"strokeWidth":1.1}},"encoding":{"y":{"field":"y","type":"quantitative","axis":null},"x":{"field":"xl","type":"quantitative","axis":null},"x2":{"field":"xh"}}},
{"data":{"name":"pts"},"transform":[{"filter":"datum.p=='p9' && datum.y<0.6"}],"mark":{"type":"point","filled":true,"color":"black","size":40,"opacity":1},"encoding":{"x":{"field":"x","type":"quantitative","axis":null},"y":{"field":"y","type":"quantitative","axis":null}}},
{"data":{"name":"lab"},"transform":[{"filter":"datum.p=='p9'"}],"mark":{"type":"text","text":"b","align":"left","baseline":"alphabetic","font":"DejaVu Sans","fontSize":17,"color":"black"},"encoding":{"x":{"datum":2.25,"type":"quantitative","axis":null},"y":{"datum":0.375,"type":"quantitative","axis":null}}},
{"data":{"name":"lab"},"transform":[{"filter":"datum.p=='p9'"}],"mark":{"type":"text","align":"left","baseline":"alphabetic","font":"DejaVu Sans","fontSize":15,"color":"black"},"encoding":{"x":{"datum":2.31,"type":"quantitative","axis":null},"y":{"datum":0.445,"type":"quantitative","axis":null},"text":{"field":"sup"}}},
{"data":{"name":"lab"},"transform":[{"filter":"datum.p=='p9'"}],"mark":{"type":"text","align":"left","baseline":"alphabetic","font":"DejaVu Sans","fontSize":17,"color":"black"},"encoding":{"x":{"datum":2.303,"type":"quantitative","axis":null},"y":{"datum":0.315,"type":"quantitative","axis":null},"text":{"field":"sub"}}}
]},
{"width":214,"height":189,"layer":[
{"data":{"name":"hist"},"transform":[{"filter":"datum.p=='p10'"}],"mark":{"type":"line","interpolate":"step-after","color":"black","strokeWidth":1},"encoding":{"x":{"field":"x","type":"quantitative","scale":{"domain":[1.6,2.5]},"axis":{"orient":"bottom","values":[1.8,2.0,2.2,2.4],"title":null,"labelExpr":"abs(datum.value-1.8)<0.01?'1.8':(abs(datum.value-2.2)<0.01?'2.2':'')"}},"y":{"field":"h","type":"quantitative","scale":{"domain":[-0.6,0.6]},"axis":{"orient":"left","values":[-0.3,0,0.3],"title":null,"labels":false}}}},
{"data":{"name":"pts"},"transform":[{"filter":"datum.p=='p10'"}],"mark":{"type":"errorbar","color":"black","ticks":{"size":4},"rule":{"strokeWidth":1.1}},"encoding":{"x":{"field":"x","type":"quantitative","scale":{"domain":[1.6,2.5]},"axis":{"orient":"top","values":[1.8,2.0,2.2,2.4],"labels":false,"title":null}},"y":{"field":"lo","type":"quantitative","scale":{"domain":[-0.6,0.6]},"axis":{"orient":"right","values":[-0.3,0,0.3],"labels":false,"title":null}},"y2":{"field":"hi"}}},
{"data":{"name":"pts"},"transform":[{"filter":"datum.p=='p10'"}],"mark":{"type":"errorbar","color":"black","ticks":{"size":4},"rule":{"strokeWidth":1.1}},"encoding":{"y":{"field":"y","type":"quantitative","axis":null},"x":{"field":"xl","type":"quantitative","axis":null},"x2":{"field":"xh"}}},
{"data":{"name":"pts"},"transform":[{"filter":"datum.p=='p10' && datum.y<0.6"}],"mark":{"type":"point","filled":true,"color":"black","size":40,"opacity":1},"encoding":{"x":{"field":"x","type":"quantitative","axis":null},"y":{"field":"y","type":"quantitative","axis":null}}},
{"data":{"name":"lab"},"transform":[{"filter":"datum.p=='p10'"}],"mark":{"type":"text","text":"b","align":"left","baseline":"alphabetic","font":"DejaVu Sans","fontSize":17,"color":"black"},"encoding":{"x":{"datum":2.25,"type":"quantitative","axis":null},"y":{"datum":0.375,"type":"quantitative","axis":null}}},
{"data":{"name":"lab"},"transform":[{"filter":"datum.p=='p10'"}],"mark":{"type":"text","align":"left","baseline":"alphabetic","font":"DejaVu Sans","fontSize":15,"color":"black"},"encoding":{"x":{"datum":2.31,"type":"quantitative","axis":null},"y":{"datum":0.445,"type":"quantitative","axis":null},"text":{"field":"sup"}}},
{"data":{"name":"lab"},"transform":[{"filter":"datum.p=='p10'"}],"mark":{"type":"text","align":"left","baseline":"alphabetic","font":"DejaVu Sans","fontSize":17,"color":"black"},"encoding":{"x":{"datum":2.303,"type":"quantitative","axis":null},"y":{"datum":0.315,"type":"quantitative","axis":null},"text":{"field":"sub"}}}
]},
{"width":214,"height":189,"layer":[
{"data":{"name":"hist"},"transform":[{"filter":"datum.p=='p11'"}],"mark":{"type":"line","interpolate":"step-after","color":"black","strokeWidth":1},"encoding":{"x":{"field":"x","type":"quantitative","scale":{"domain":[1.6,2.5]},"axis":{"orient":"bottom","values":[1.8,2.0,2.2,2.4],"title":null,"labelExpr":"abs(datum.value-1.8)<0.01?'1.8':(abs(datum.value-2.2)<0.01?'2.2':'')"}},"y":{"field":"h","type":"quantitative","scale":{"domain":[-0.6,0.6]},"axis":{"orient":"left","values":[-0.3,0,0.3],"title":null,"labels":false}}}},
{"data":{"name":"pts"},"transform":[{"filter":"datum.p=='p11'"}],"mark":{"type":"errorbar","color":"black","ticks":{"size":4},"rule":{"strokeWidth":1.1}},"encoding":{"x":{"field":"x","type":"quantitative","scale":{"domain":[1.6,2.5]},"axis":{"orient":"top","values":[1.8,2.0,2.2,2.4],"labels":false,"title":null}},"y":{"field":"lo","type":"quantitative","scale":{"domain":[-0.6,0.6]},"axis":{"orient":"right","values":[-0.3,0,0.3],"labels":false,"title":null}},"y2":{"field":"hi"}}},
{"data":{"name":"pts"},"transform":[{"filter":"datum.p=='p11'"}],"mark":{"type":"errorbar","color":"black","ticks":{"size":4},"rule":{"strokeWidth":1.1}},"encoding":{"y":{"field":"y","type":"quantitative","axis":null},"x":{"field":"xl","type":"quantitative","axis":null},"x2":{"field":"xh"}}},
{"data":{"name":"pts"},"transform":[{"filter":"datum.p=='p11' && datum.y<0.6"}],"mark":{"type":"point","filled":true,"color":"black","size":40,"opacity":1},"encoding":{"x":{"field":"x","type":"quantitative","axis":null},"y":{"field":"y","type":"quantitative","axis":null}}},
{"data":{"name":"lab"},"transform":[{"filter":"datum.p=='p11'"}],"mark":{"type":"text","text":"b","align":"left","baseline":"alphabetic","font":"DejaVu Sans","fontSize":17,"color":"black"},"encoding":{"x":{"datum":2.25,"type":"quantitative","axis":null},"y":{"datum":0.375,"type":"quantitative","axis":null}}},
{"data":{"name":"lab"},"transform":[{"filter":"datum.p=='p11'"}],"mark":{"type":"text","align":"left","baseline":"alphabetic","font":"DejaVu Sans","fontSize":15,"color":"black"},"encoding":{"x":{"datum":2.31,"type":"quantitative","axis":null},"y":{"datum":0.445,"type":"quantitative","axis":null},"text":{"field":"sup"}}},
{"data":{"name":"lab"},"transform":[{"filter":"datum.p=='p11'"}],"mark":{"type":"text","align":"left","baseline":"alphabetic","font":"DejaVu Sans","fontSize":17,"color":"black"},"encoding":{"x":{"datum":2.303,"type":"quantitative","axis":null},"y":{"datum":0.315,"type":"quantitative","axis":null},"text":{"field":"sub"}}}
]},
{"width":214,"height":189,"layer":[
{"data":{"name":"hist"},"transform":[{"filter":"datum.p=='p12'"}],"mark":{"type":"line","interpolate":"step-after","color":"black","strokeWidth":1},"encoding":{"x":{"field":"x","type":"quantitative","scale":{"domain":[1.6,2.5]},"axis":{"orient":"bottom","values":[1.8,2.0,2.2,2.4],"title":null,"labelExpr":"abs(datum.value-1.8)<0.01?'1.8':(abs(datum.value-2.2)<0.01?'2.2':'')"}},"y":{"field":"h","type":"quantitative","scale":{"domain":[-0.6,0.6]},"axis":{"orient":"left","values":[-0.3,0,0.3],"title":null,"labels":false}}}},
{"data":{"name":"pts"},"transform":[{"filter":"datum.p=='p12'"}],"mark":{"type":"errorbar","color":"black","ticks":{"size":4},"rule":{"strokeWidth":1.1}},"encoding":{"x":{"field":"x","type":"quantitative","scale":{"domain":[1.6,2.5]},"axis":{"orient":"top","values":[1.8,2.0,2.2,2.4],"labels":false,"title":null}},"y":{"field":"lo","type":"quantitative","scale":{"domain":[-0.6,0.6]},"axis":{"orient":"right","values":[-0.3,0,0.3],"labels":false,"title":null}},"y2":{"field":"hi"}}},
{"data":{"name":"pts"},"transform":[{"filter":"datum.p=='p12'"}],"mark":{"type":"errorbar","color":"black","ticks":{"size":4},"rule":{"strokeWidth":1.1}},"encoding":{"y":{"field":"y","type":"quantitative","axis":null},"x":{"field":"xl","type":"quantitative","axis":null},"x2":{"field":"xh"}}},
{"data":{"name":"pts"},"transform":[{"filter":"datum.p=='p12' && datum.y<0.6"}],"mark":{"type":"point","filled":true,"color":"black","size":40,"opacity":1},"encoding":{"x":{"field":"x","type":"quantitative","axis":null},"y":{"field":"y","type":"quantitative","axis":null}}},
{"data":{"name":"lab"},"transform":[{"filter":"datum.p=='p12'"}],"mark":{"type":"text","text":"b","align":"left","baseline":"alphabetic","font":"DejaVu Sans","fontSize":17,"color":"black"},"encoding":{"x":{"datum":2.25,"type":"quantitative","axis":null},"y":{"datum":0.375,"type":"quantitative","axis":null}}},
{"data":{"name":"lab"},"transform":[{"filter":"datum.p=='p12'"}],"mark":{"type":"text","align":"left","baseline":"alphabetic","font":"DejaVu Sans","fontSize":15,"color":"black"},"encoding":{"x":{"datum":2.31,"type":"quantitative","axis":null},"y":{"datum":0.445,"type":"quantitative","axis":null},"text":{"field":"sup"}}},
{"data":{"name":"lab"},"transform":[{"filter":"datum.p=='p12'"}],"mark":{"type":"text","align":"left","baseline":"alphabetic","font":"DejaVu Sans","fontSize":17,"color":"black"},"encoding":{"x":{"datum":2.303,"type":"quantitative","axis":null},"y":{"datum":0.315,"type":"quantitative","axis":null},"text":{"field":"sub"}}}
]}
],
"config": {
"view": {"stroke": "black", "strokeWidth": 2.5},
"axis": {"domain": false, "grid": false, "ticks": true, "tickSize": -6, "tickColor": "black", "tickWidth": 1.3, "labelColor": "black", "labelFont": "Liberation Serif", "labelFontSize": 18, "labelOverlap": false, "titleFont": "DejaVu Serif", "titleFontSize": 50, "titleFontWeight": "normal", "titleColor": "black"},
"axisX": {"labelPadding": 24},
"axisY": {"labelPadding": 11}
}
}
